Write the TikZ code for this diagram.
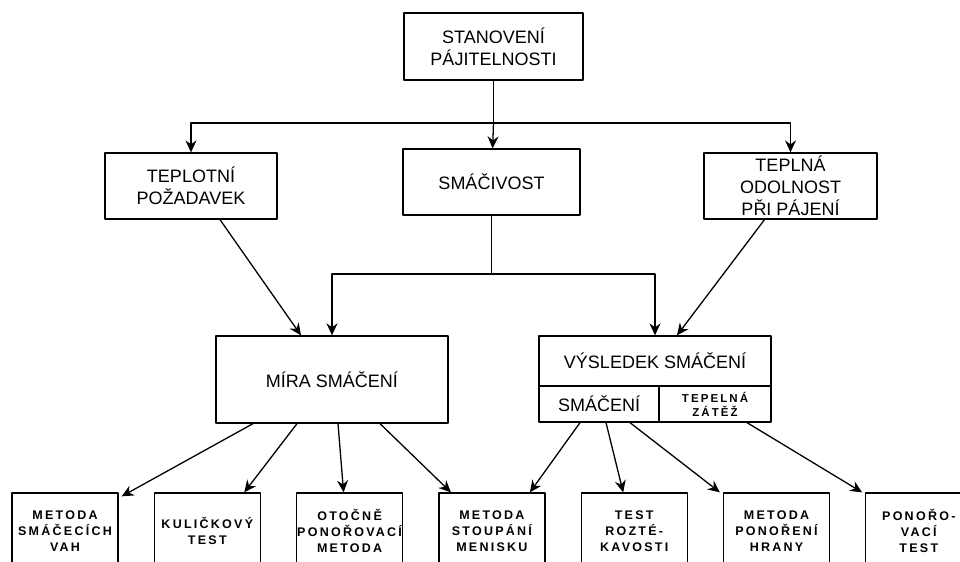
\documentclass[tikz,border=0pt]{standalone}
\usepackage{fontspec}
\setmainfont{Liberation Sans}
\newfontfamily\leaffont[LetterSpace=18]{Liberation Sans}
\usetikzlibrary{arrows.meta}

\begin{document}
\begin{tikzpicture}[x=1bp,y=-1bp,>={Stealth[length=12bp,width=11bp,inset=4bp]},line join=bevel,
  box/.style={draw,rectangle,align=center,inner sep=0pt,font=\fontsize{18bp}{22bp}\selectfont},
  leaf/.style={box,minimum width=106bp,minimum height=76bp,font=\leaffont\bfseries\fontsize{12.5bp}{16bp}\selectfont}]
  \pgfsetlinewidth{1.3bp}
  \clip (0,0) rectangle (960,562);
%%
  % Node: Stanoveni
  \node[box,minimum width=179bp,minimum height=67bp] (stanoveni) at (493.5,46.5) {STANOVENÍ\\PÁJITELNOSTI};
  % Node: Teplotni
  \node[box,minimum width=172bp,minimum height=66bp] (teplotni) at (191,186) {TEPLOTNÍ\\POŽADAVEK};
  % Node: Smacivost
  \node[box,minimum width=177bp,minimum height=66bp] (smacivost) at (491.5,182) {SMÁČIVOST};
  % Node: Odolnost
  \node[box,minimum width=173bp,minimum height=66bp] (odolnost) at (790.5,186) {TEPLNÁ\\ODOLNOST\\PŘI PÁJENÍ};
  % Node: Mira
  \node[box,minimum width=232bp,minimum height=87bp] (mira) at (332,379.5) {MÍRA SMÁČENÍ};
  % Node: Vysledek
  \node[box,minimum width=232bp,minimum height=50bp] (vysledek) at (655,361) {VÝSLEDEK SMÁČENÍ};
  \node[box,minimum width=120bp,minimum height=36bp] (smaceni) at (599,404) {SMÁČENÍ};
  \node[box,minimum width=112bp,minimum height=36bp,font=\leaffont\bfseries\fontsize{11.5bp}{14bp}\selectfont] (zatez) at (715,404) {TEPELNÁ\\ZÁTĚŽ};
  % Nodes: methods
  \node[leaf] (vah) at (65,531) {METODA\\SMÁČECÍCH\\VAH};
  \node[leaf] (kulickovy) at (207.3,531) {KULIČKOVÝ\\TEST};
  \node[leaf] (otocne) at (349.6,531) {OTOČNĚ\\PONOŘOVACÍ\\METODA};
  \node[leaf] (menisku) at (491.9,531) {METODA\\STOUPÁNÍ\\MENISKU};
  \node[leaf] (roztek) at (634.2,531) {TEST\\ROZTÉ-\\KAVOSTI};
  \node[leaf] (hrany) at (776.5,531) {METODA\\PONOŘENÍ\\HRANY};
  \node[leaf] (ponor) at (918.8,531) {PONOŘO-\\VACÍ\\TEST};
%%
  \coordinate (split1) at (493.5,123);
  \coordinate (split2) at (491.5,274);
  % Edge: Stanoveni -> Teplotni, Smacivost, Odolnost
  \draw (stanoveni) -- (split1);
  \draw [->] (split1) -| (teplotni);
  \draw [->] (split1) -- (smacivost);
  \draw [->] (split1) -| (odolnost);
  % Edge: Smacivost -> Mira, Vysledek
  \draw (smacivost) -- (split2);
  \draw [->] (split2) -| (mira);
  \draw [->] (split2) -| (vysledek);
  % Edge: Teplotni -> Mira
  \draw [->] ([xshift=29bp]teplotni.south) -- ([xshift=-31bp]mira.north);
  % Edge: Odolnost -> Vysledek
  \draw [->] ([xshift=-26bp]odolnost.south) -- ([xshift=22bp]vysledek.north);
  % Edge: Mira -> methods
  \draw [->] ([xshift=-79bp]mira.south) -- ([xshift=3bp,yshift=-4bp]vah.north east);
  \draw [->] ([xshift=-35bp]mira.south) -- ([xshift=37bp]kulickovy.north);
  \draw [->] ([xshift=6bp]mira.south) -- ([xshift=-6bp]otocne.north);
  \draw [->] ([xshift=48bp]mira.south) -- ([xshift=-41bp]menisku.north);
  % Edge: Smaceni -> methods
  \draw [->] ([xshift=-19bp]smaceni.south) -- ([xshift=38bp]menisku.north);
  \draw [->] ([xshift=7bp]smaceni.south) -- ([xshift=-11bp]roztek.north);
  \draw [->] ([xshift=31bp]smaceni.south) -- ([xshift=-3bp]hrany.north west);
  % Edge: Zatez -> Ponor
  \draw [->] ([xshift=32bp]zatez.south) -- ([xshift=-3bp]ponor.north west);
%
\end{tikzpicture}
\end{document}
